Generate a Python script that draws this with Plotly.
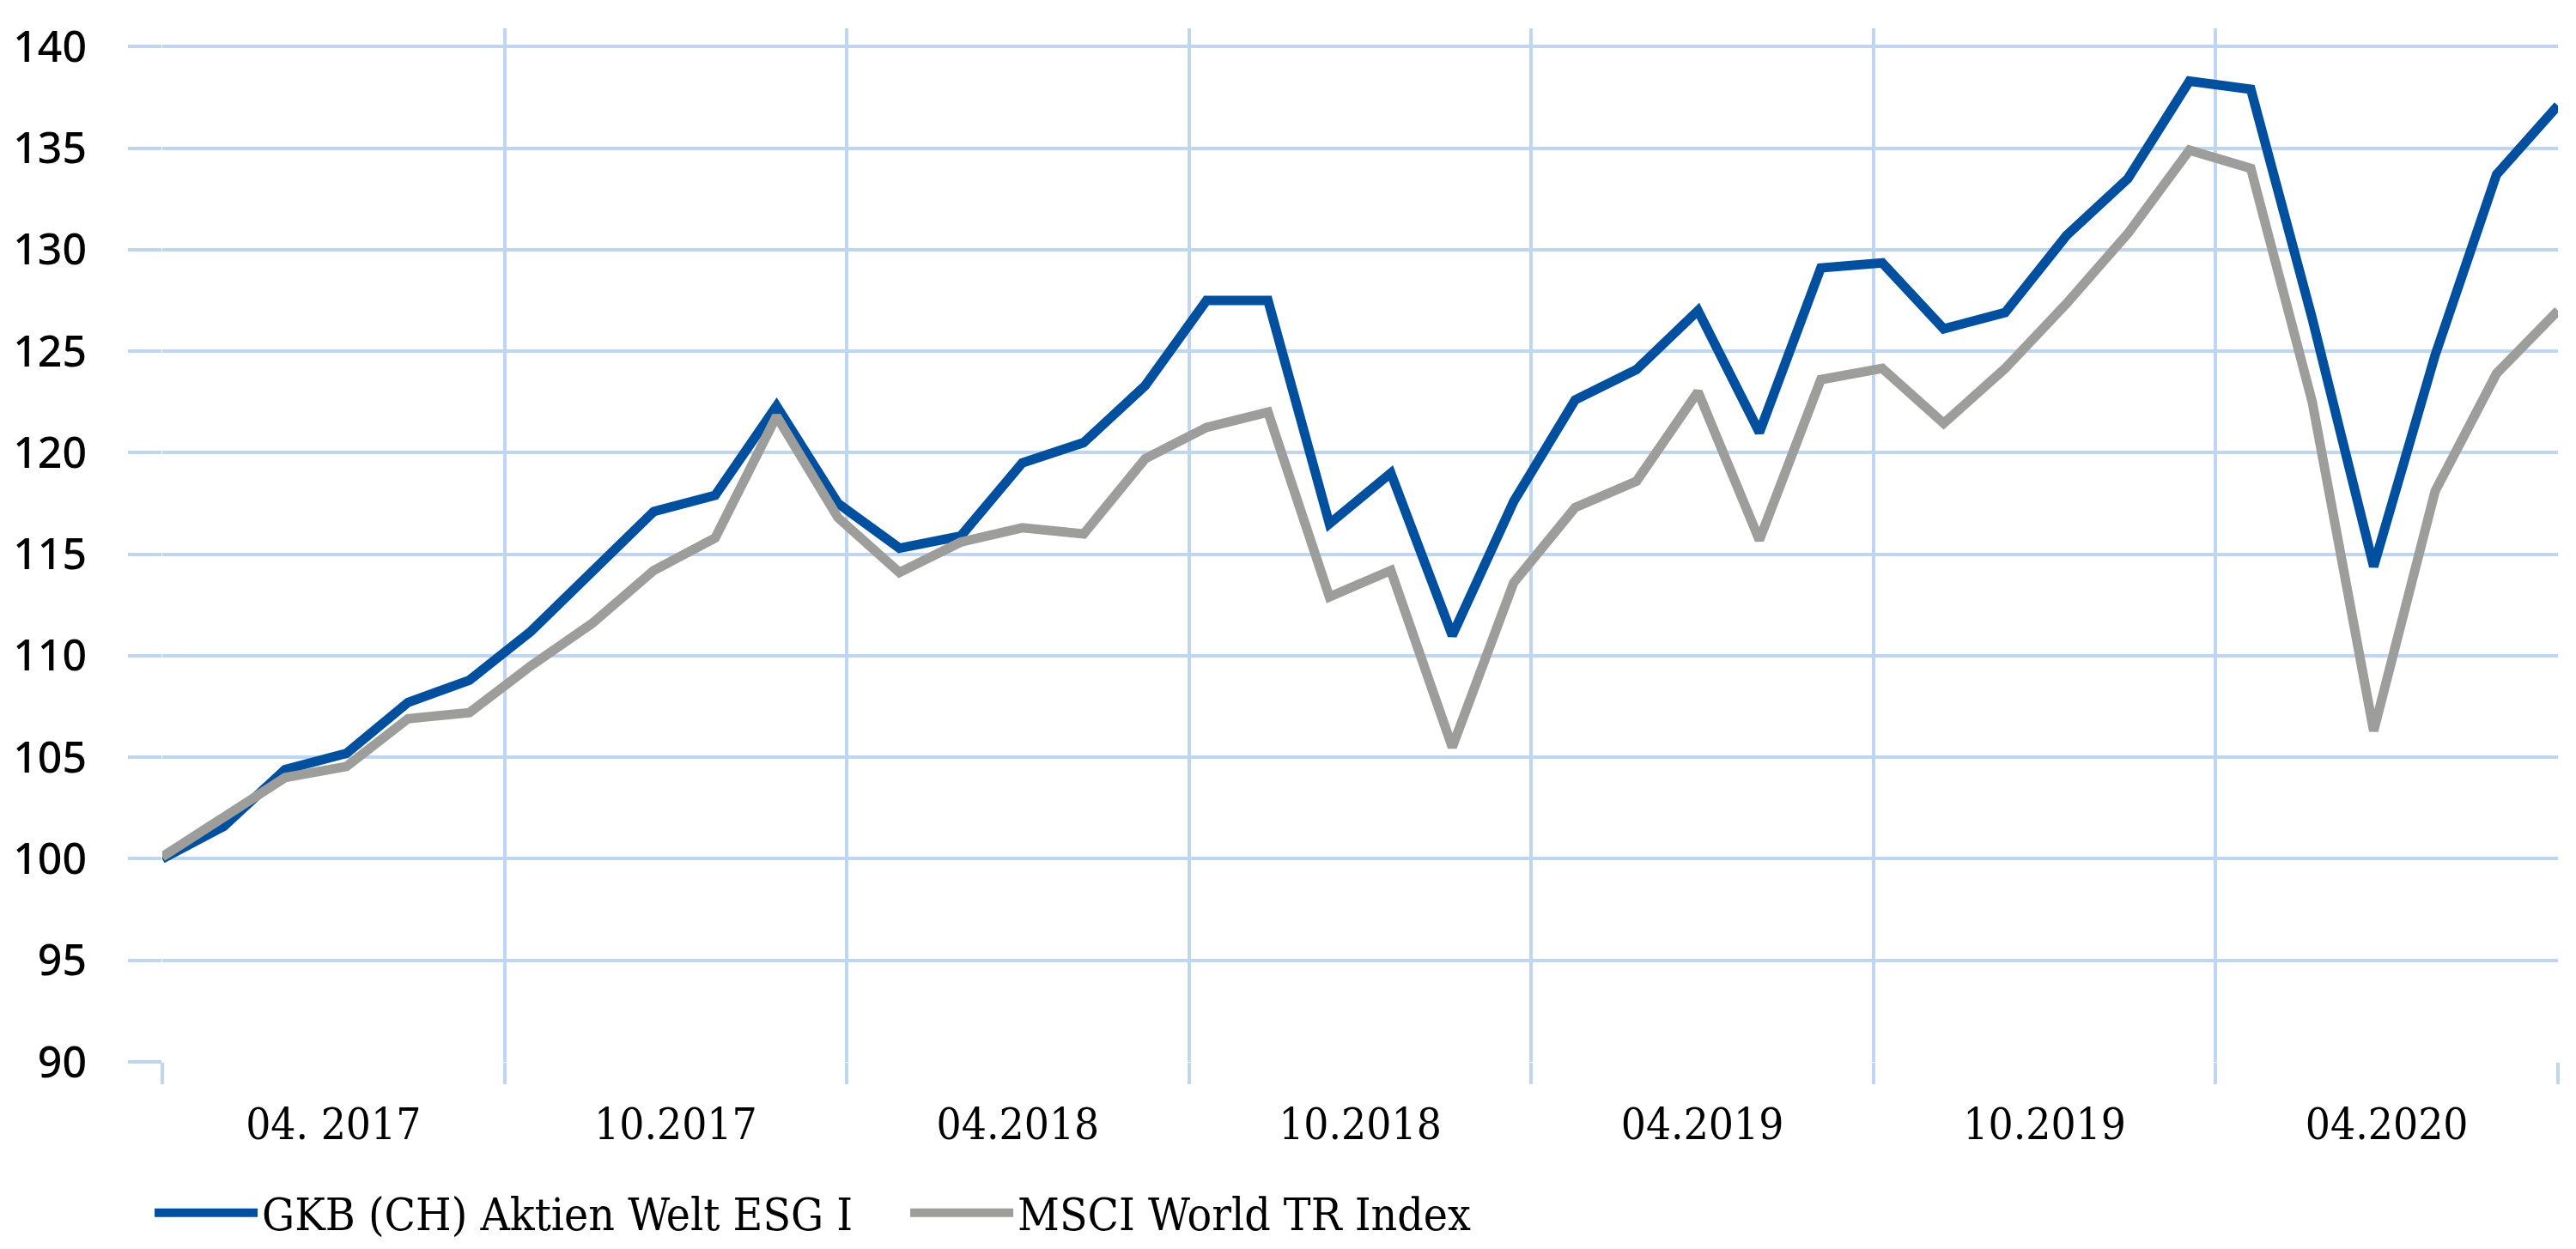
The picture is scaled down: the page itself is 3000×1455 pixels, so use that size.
import plotly.graph_objects as go

months = [
    "03.2017", "04.2017", "05.2017", "06.2017", "07.2017", "08.2017", "09.2017", "10.2017",
    "11.2017", "12.2017", "01.2018", "02.2018", "03.2018", "04.2018", "05.2018", "06.2018",
    "07.2018", "08.2018", "09.2018", "10.2018", "11.2018", "12.2018", "01.2019", "02.2019",
    "03.2019", "04.2019", "05.2019", "06.2019", "07.2019", "08.2019", "09.2019", "10.2019",
    "11.2019", "12.2019", "01.2020", "02.2020", "03.2020", "04.2020", "05.2020", "06.2020",
]
gkb = [
    100.0, 101.6, 104.4, 105.2, 107.7, 108.8, 111.2, 114.2, 117.1, 117.9,
    122.3, 117.5, 115.3, 115.9, 119.5, 120.5, 123.3, 127.5, 127.5, 116.5,
    119.0, 111.0, 117.6, 122.6, 124.1, 127.0, 121.0, 129.1, 129.35, 126.1,
    126.9, 130.7, 133.5, 138.3, 137.9, 126.6, 114.4, 124.8, 133.7, 137.1,
]
msci = [
    100.1, 102.0, 104.0, 104.55, 106.9, 107.2, 109.5, 111.6, 114.2, 115.8,
    121.8, 116.8, 114.1, 115.6, 116.3, 116.0, 119.7, 121.25, 122.0, 112.9,
    114.2, 105.5, 113.6, 117.3, 118.6, 123.0, 115.7, 123.6, 124.15, 121.45,
    124.15, 127.35, 130.8, 134.9, 134.0, 122.5, 106.3, 118.1, 123.9, 127.0,
]
period_labels = ["04. 2017", "10.2017", "04.2018", "10.2018", "04.2019", "10.2019", "04.2020"]
y_ticks = [90, 95, 100, 105, 110, 115, 120, 125, 130, 135, 140]
series_names = ["GKB (CH) Aktien Welt ESG I", "MSCI World TR Index"]

BLUE = "#00509F"
GRAY = "#9D9D9C"
GRID = "#BFD6F1"
SERIF = "DejaVu Serif Condensed, DejaVu Serif, serif"

x = list(range(len(months)))
span = len(months) - 1
n = len(period_labels)
bounds = [k * span / n for k in range(n + 1)]
centers = [(k + 0.5) * span / n for k in range(n)]

fig = go.Figure()
fig.add_trace(go.Scatter(x=x, y=gkb, mode="lines", name=series_names[0],
                         customdata=months, hovertemplate="%{customdata}: %{y}<extra></extra>",
                         line=dict(color=BLUE, width=11)))
fig.add_trace(go.Scatter(x=x, y=msci, mode="lines", name=series_names[1],
                         customdata=months, hovertemplate="%{customdata}: %{y}<extra></extra>",
                         line=dict(color=GRAY, width=11)))

fig.update_layout(
    width=3000, height=1455,
    margin=dict(l=189, r=21, t=33, b=218, autoexpand=False),
    paper_bgcolor="white", plot_bgcolor="white",
    showlegend=True,
    legend=dict(orientation="h", x=-0.005, y=-0.146, xanchor="left", yanchor="middle",
                font=dict(family=SERIF, size=53, color="black"),
                itemwidth=120, entrywidth=745, tracegroupgap=0),
)
fig.update_xaxes(
    range=[0, span], showline=False, zeroline=False, automargin=False,
    tickmode="array", tickvals=centers, ticktext=period_labels,
    showgrid=False, ticks="", tickfont=dict(family=SERIF, size=51, color="black"),
    ticklabelstandoff=38,
    minor=dict(tickmode="array", tickvals=bounds, showgrid=True, gridcolor=GRID, gridwidth=4,
               ticks="outside", ticklen=25, tickcolor=GRID, tickwidth=4),
)
fig.update_yaxes(
    range=[90, 140.9], showline=False, zeroline=False, automargin=False,
    tickmode="array", tickvals=y_ticks, showgrid=True, gridcolor=GRID, gridwidth=4,
    ticks="outside", ticklen=39, tickcolor=GRID, tickwidth=4,
    tickfont=dict(family="Noto Sans, sans-serif", size=50, color="black", weight=500),
    ticklabelstandoff=38,
)

fig.write_html("out.html")
